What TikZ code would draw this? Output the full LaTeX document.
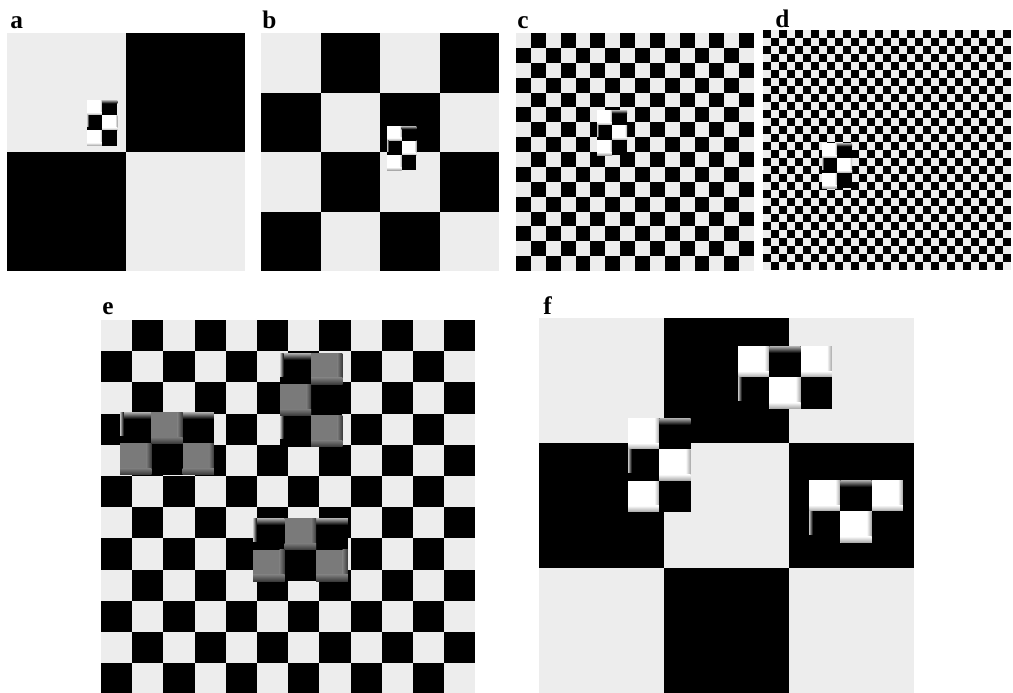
\documentclass[tikz,border=0pt]{standalone}
\usepackage{fontspec}
\setmainfont{Liberation Serif}

\definecolor{lightsq}{RGB}{237,237,237}
\definecolor{midgray}{RGB}{122,122,122}

% board: x, y, columns, rows, cell, parity (0 = light top left)
\newcommand{\chkboard}[6]{%
  \fill[lightsq] (#1,#2) rectangle ++({#3*#5},{#4*#5});
  \foreach \i in {1,...,#3}{
    \foreach \j in {1,...,#4}{
      \pgfmathtruncatemacro{\cpar}{mod(\i+\j+#6,2)}
      \ifnum\cpar=1 \fill[black] ({#1+(\i-1)*#5},{#2+(\j-1)*#5}) rectangle ++(#5,#5);\fi
    }
  }
}

% tiles: x, y, cell, column, row
\newcommand{\wtile}[5]{%
  \fill[white] ({#1},{#2}) rectangle ++({#3},{#3});
  \shade[left color=white, right color=gray!70] ({(#1)+0.84*(#3)},{#2}) rectangle ({(#1)+(#3)},{(#2)+(#3)});
  \shade[top color=white, bottom color=gray!70] ({#1},{(#2)+0.8*(#3)}) rectangle ({(#1)+(#3)},{(#2)+(#3)});
}
\newcommand{\gtile}[5]{%
  \fill[midgray] ({#1},{#2}) rectangle ++({#3},{#3});
  \shade[left color=midgray, right color=gray!45!black] ({(#1)+0.84*(#3)},{#2}) rectangle ({(#1)+(#3)},{(#2)+(#3)});
  \shade[top color=midgray, bottom color=gray!45!black] ({#1},{(#2)+0.8*(#3)}) rectangle ({(#1)+(#3)},{(#2)+(#3)});
}
\newcommand{\ktile}[5]{%
  \fill[black] ({#1},{#2}) rectangle ++({#3},{#3});
  \ifnum#5=0 \shade[top color=gray!60, bottom color=black] ({#1},{#2}) rectangle ({(#1)+(#3)},{(#2)+0.22*(#3)});\fi
  \ifnum#4=0 \shade[left color=gray!45, right color=black] ({#1},{#2}) rectangle ({(#1)+0.12*(#3)},{(#2)+0.75*(#3)});\fi
}

% 2x3 and 3x2 patches: x, y, cell, tile A, tile B
\newcommand{\tallpat}[5]{%
  \foreach \c/\r in {0/0,1/1,0/2}{#4{(#1)+(#3)*\c}{(#2)+(#3)*\r}{#3}{\c}{\r}}
  \foreach \c/\r in {1/0,0/1,1/2}{#5{(#1)+(#3)*\c}{(#2)+(#3)*\r}{#3}{\c}{\r}}
}
\newcommand{\widepat}[5]{%
  \foreach \c/\r in {0/0,2/0,1/1}{#4{(#1)+(#3)*\c}{(#2)+(#3)*\r}{#3}{\c}{\r}}
  \foreach \c/\r in {1/0,0/1,2/1}{#5{(#1)+(#3)*\c}{(#2)+(#3)*\r}{#3}{\c}{\r}}
}

\begin{document}
\begin{tikzpicture}[
x=0.025cm, y=-0.025cm,
lbl/.style={anchor=base west, inner sep=0pt, font=\fontsize{18}{20}\selectfont\bfseries}
]
\useasboundingbox (0,0) rectangle (1013,692);

% -------- Top row --------
\chkboard{7}{33}{2}{2}{119}{0}
\tallpat{87}{100}{15.2}{\wtile}{\ktile}
\node[lbl] (laba) at (10,28) {a};

\chkboard{261}{33}{4}{4}{59.5}{0}
\tallpat{387}{126}{14.7}{\wtile}{\ktile}
\node[lbl] (labb) at (262,28) {b};

\chkboard{516}{33}{16}{16}{14.875}{0}
\tallpat{597}{110}{15}{\wtile}{\ktile}
\node[lbl] (labc) at (517,28) {c};

\chkboard{763}{30}{31}{30}{8}{1}
\tallpat{822}{143}{15}{\wtile}{\ktile}
\node[lbl] (labd) at (775,27) {d};

% -------- Panel e --------
\chkboard{101}{320}{12}{12}{31.2}{0}
\widepat{120}{412}{31.3}{\ktile}{\gtile}
\tallpat{280}{353}{31.2}{\ktile}{\gtile}
\widepat{253}{518}{31.6}{\ktile}{\gtile}
\node[lbl] (labe) at (102,314) {e};

% -------- Panel f --------
\chkboard{539}{318}{3}{3}{125}{0}
\widepat{738}{346}{31.3}{\wtile}{\ktile}
\tallpat{628}{418}{31.3}{\wtile}{\ktile}
\widepat{809}{480}{31.3}{\wtile}{\ktile}
\node[lbl] (labf) at (543,314) {f};

\end{tikzpicture}
\end{document}
